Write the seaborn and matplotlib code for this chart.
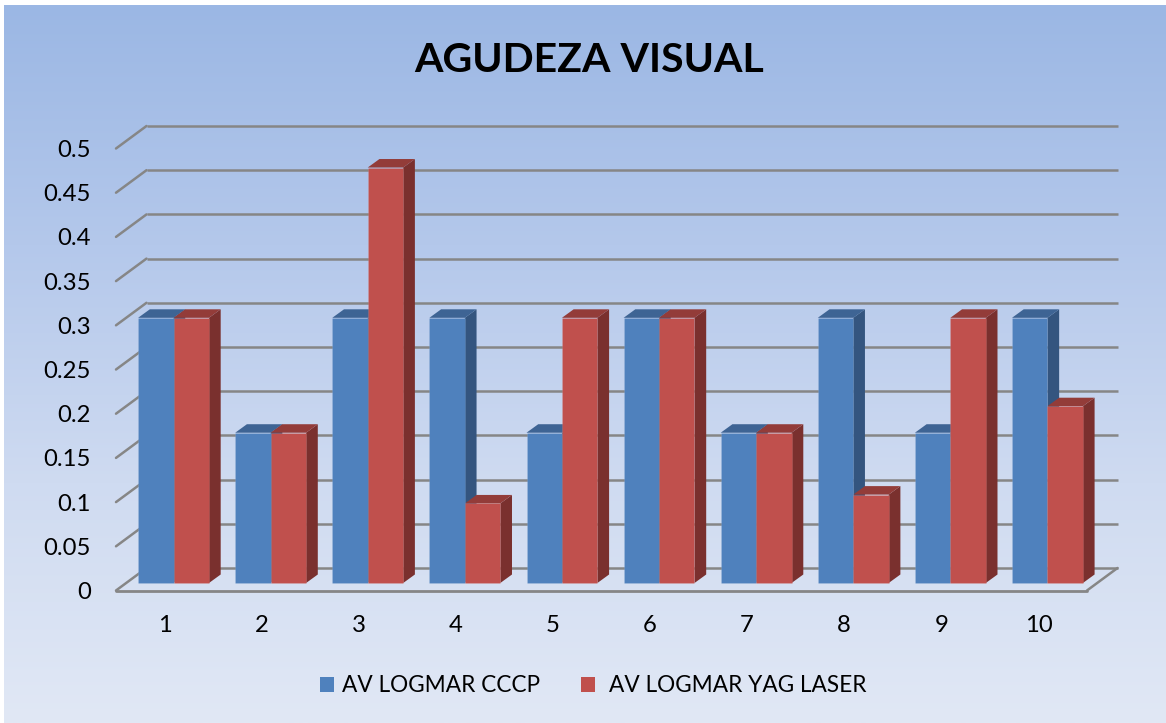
import numpy as np
import pandas as pd
import matplotlib
matplotlib.use("Agg")
import matplotlib.pyplot as plt
from matplotlib.patches import Polygon, Patch
from matplotlib.transforms import Affine2D, IdentityTransform
from matplotlib.colors import LinearSegmentedColormap
import seaborn as sns

categories = ["1", "2", "3", "4", "5", "6", "7", "8", "9", "10"]
cccp = [0.3, 0.17, 0.3, 0.3, 0.17, 0.3, 0.17, 0.3, 0.17, 0.3]
yag = [0.3, 0.17, 0.47, 0.09, 0.3, 0.3, 0.17, 0.1, 0.3, 0.2]
series_names = ["AV LOGMAR CCCP", "AV LOGMAR YAG LASER"]
front_colors = ["#4F81BD", "#C0504D"]
side_colors = ["#34557F", "#7A302E"]
top_colors = ["#3E6494", "#933C39"]
yticks = [0, 0.05, 0.1, 0.15, 0.2, 0.25, 0.3, 0.35, 0.4, 0.45, 0.5]
yticklabels = ["0", "0.05", "0.1", "0.15", "0.2", "0.25", "0.3", "0.35", "0.4", "0.45", "0.5"]

sns.set_theme(style="white")
plt.rcParams["font.family"] = ["Lato", "DejaVu Sans"]

W, H = 1166, 723
fig = plt.figure(figsize=(W / 100, H / 100), dpi=100, facecolor="white")

# gradient background panel
bg = fig.add_axes([4 / W, 0, (W - 4) / W, (H - 5) / H], zorder=0)
cmap = LinearSegmentedColormap.from_list("bg", ["#9BB7E4", "#B4C8EB", "#CFDBF1", "#E1E8F5"])
bg.imshow(np.linspace(0, 1, 256)[:, None], aspect="auto", cmap=cmap)
bg.axis("off")

# axes occupy the front plane of the 3-D box
ax = fig.add_axes([116 / W, (H - 590.5) / H, 971 / W, 442 / H], zorder=1)
ax.patch.set_alpha(0)

df = pd.DataFrame({
    "cat": categories * 2,
    "value": cccp + yag,
    "series": [series_names[0]] * 10 + [series_names[1]] * 10,
})
sns.barplot(data=df, x="cat", y="value", hue="series", palette=front_colors,
            width=0.73, gap=0, dodge=True, legend=False, ax=ax,
            saturation=1, errorbar=None)
ax.set_xlim(-0.5, 9.5)
ax.set_ylim(0, 0.5)
ax.set_xlabel("")
ax.set_ylabel("")
for s in ax.spines.values():
    s.set_visible(False)

ax.set_yticks(yticks)
ax.set_yticklabels(yticklabels)
ax.tick_params(axis="y", length=0, pad=18, labelsize=17.2, labelcolor="black")
ax.tick_params(axis="x", length=0, pad=18, labelsize=17.2, labelcolor="black")
for label in ax.get_yticklabels():
    label.set_verticalalignment("center_baseline")

# offsets in display pixels
bar_dx, bar_dy = 9.0, 7.5
bar_off = Affine2D().translate(bar_dx, bar_dy)
back_off = Affine2D().translate(30.5, 22.5)
identity = IdentityTransform()
grid_c = "#868686"

# back wall gridlines, side wall diagonals, floor
for t in yticks:
    ax.plot([-0.5, 9.5], [t, t], color=grid_c, lw=1.8, transform=ax.transData + back_off,
            clip_on=False, zorder=2, solid_capstyle="butt")
    p0 = ax.transData.transform((-0.5, t))
    ax.plot([p0[0], p0[0] + 30.5], [p0[1], p0[1] + 22.5], color=grid_c, lw=1.8,
            transform=identity, clip_on=False, zorder=2)
ax.plot([-0.5, 9.5], [0, 0], color=grid_c, lw=2.0, clip_on=False, zorder=2)
pr = ax.transData.transform((9.5, 0))
ax.plot([pr[0], pr[0] + 30.5], [pr[1], pr[1] + 22.5], color=grid_c, lw=1.8,
        transform=identity, clip_on=False, zorder=2)

# 3-D faces derived from seaborn's own bars
for i, cont in enumerate(ax.containers):
    for bar in cont:
        x, w, h = bar.get_x(), bar.get_width(), bar.get_height()
        x0, y0 = ax.transData.transform((x, 0)) + np.array([bar_dx, bar_dy])
        x1, y1 = ax.transData.transform((x + w, h)) + np.array([bar_dx, bar_dy])
        dx, dy = 11.7, 8.5
        side = Polygon([(x1, y0), (x1 + dx, y0 + dy), (x1 + dx, y1 + dy), (x1, y1)],
                       closed=True, facecolor=side_colors[i], edgecolor="none",
                       clip_on=False, zorder=3 + i * 0.5)
        top = Polygon([(x0, y1), (x0 + dx, y1 + dy), (x1 + dx, y1 + dy), (x1, y1)],
                      closed=True, facecolor=top_colors[i], edgecolor="none",
                      clip_on=False, zorder=3 + i * 0.5)
        ax.add_patch(side)
        ax.add_patch(top)
        side.set_transform(identity)
        top.set_transform(identity)
        bar.set_transform(ax.transData + bar_off)
        bar.set_clip_on(False)
        bar.set_zorder(5)
        bar.set_edgecolor((1, 1, 1, 0.08))
        bar.set_linewidth(0.8)
ax.set_xlim(-0.5, 9.5)
ax.set_ylim(0, 0.5)

fig.text(589.5 / W, (H - 60) / H, "AGUDEZA VISUAL", ha="center", va="center",
         fontsize=29.5, fontweight="bold", color="black", zorder=10)

# legend entries, each placed on its own
for name, color, left, pad in zip(series_names, front_colors, [320, 581], [0.35, 0.62]):
    fig.legend(handles=[Patch(facecolor=color, edgecolor="none", label=name)],
               loc="center left", bbox_to_anchor=(left / W, (H - 686) / H),
               frameon=False, fontsize=16.3, handlelength=0.62, handleheight=0.62,
               handletextpad=pad, borderpad=0, borderaxespad=0, labelcolor="black")

fig.savefig("out.png", dpi=100)
